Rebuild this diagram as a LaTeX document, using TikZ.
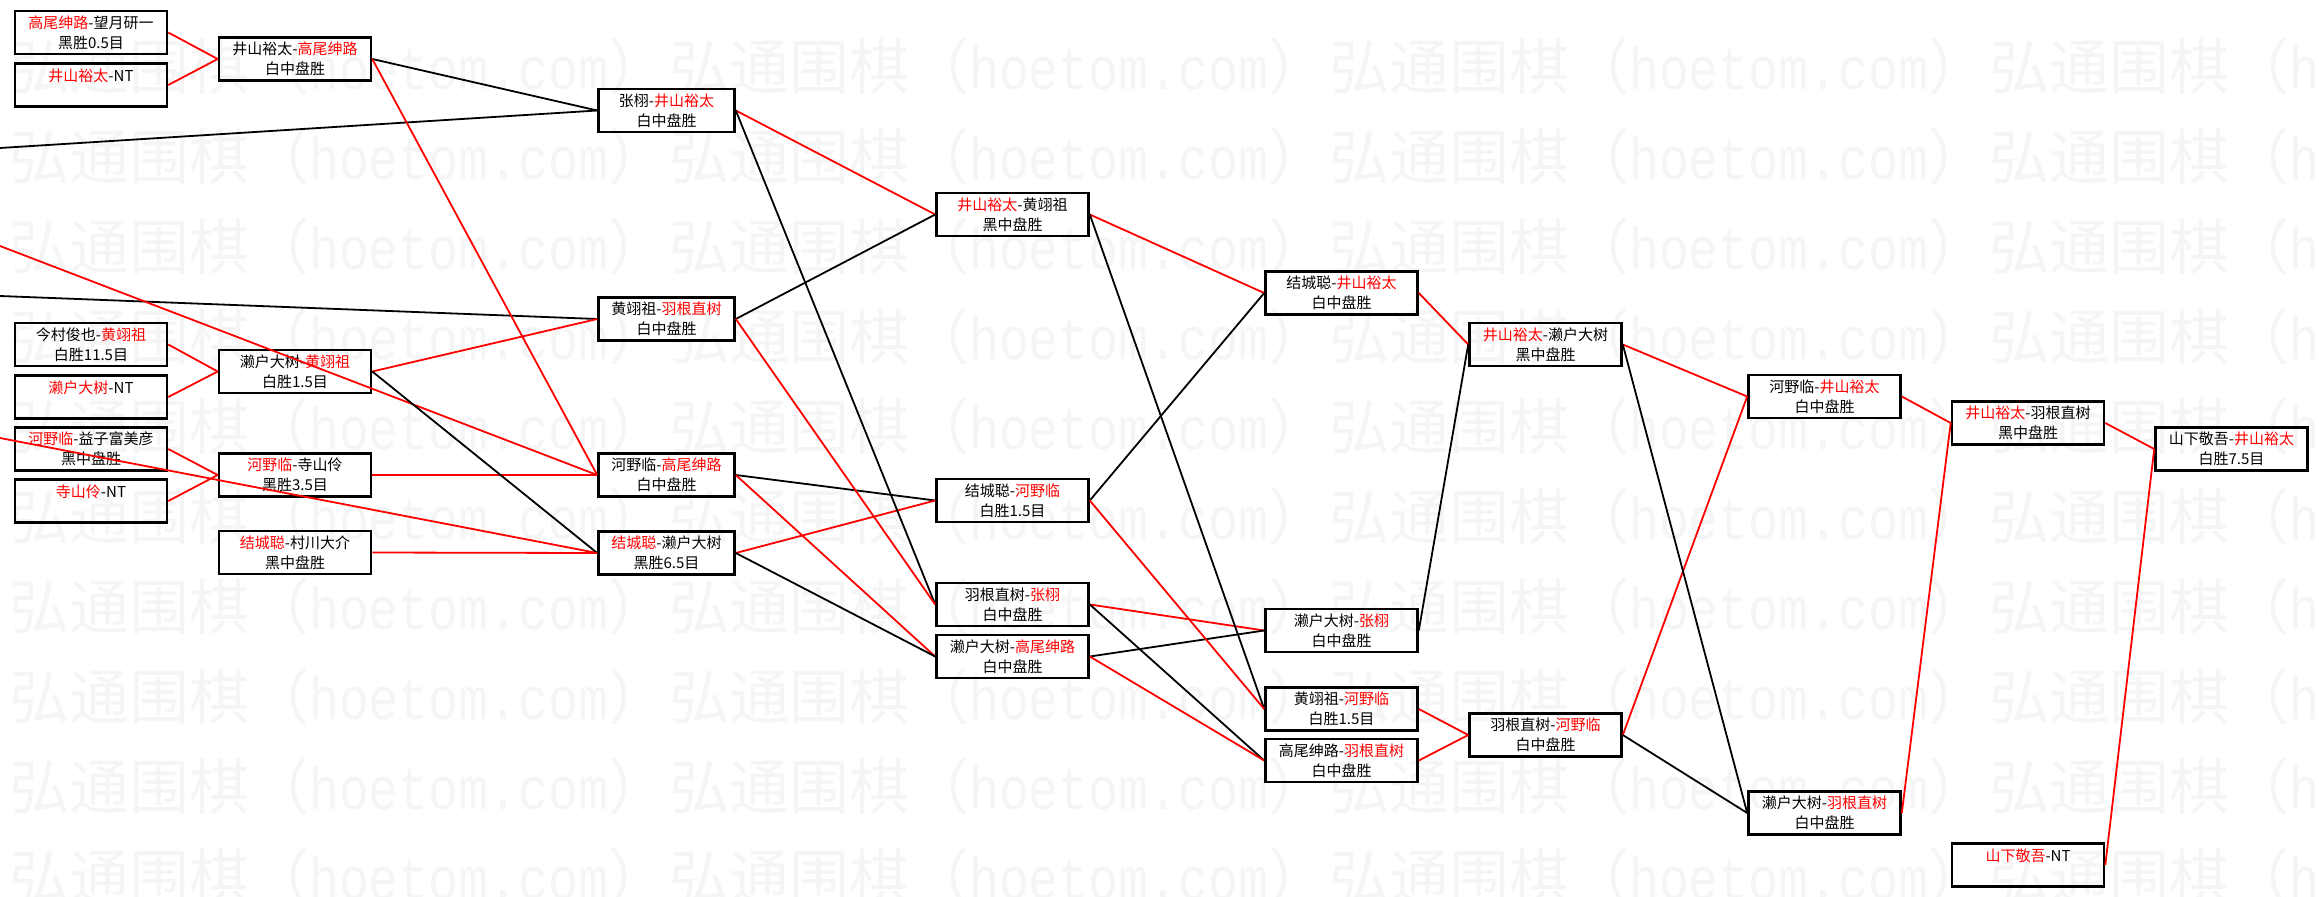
\documentclass[tikz,border=0pt]{standalone}
\usepackage{fontspec}
\setmainfont{Noto Sans CJK SC}
\newfontfamily\wmmono{Liberation Mono}[FakeStretch=0.83]
\newcommand{\winner}[1]{\textcolor{red}{#1}}

\begin{document}
\begin{tikzpicture}[x=1pt, y=-1pt,
  box/.style={draw, line width=2.6pt, minimum width=152, minimum height=43, inner sep=0pt, align=center, font=\fontsize{15}{20}\selectfont},
  narrow/.style={box, minimum width=136},
  win/.style={draw=red, line width=1.8pt},
  lose/.style={draw=black, line width=1.8pt},
  wm/.style={anchor=west, inner sep=0pt, text=black!4, font=\fontsize{60}{60}\selectfont}]
  % 0. 画布
  \useasboundingbox (0,0) rectangle (2319,897);

  % 1. 水印 (最底层)
  \foreach \j in {0,...,9}
    \foreach \k in {-1,...,3}
      \node[wm] (wm-\j-\k) at ({9+660*\k}, {67+90*\j}) {弘通围棋（{\wmmono hoetom.com}）};

  % 2. 对局框
  \node[box] (A1) at (91,32.5) {\winner{高尾绅路}-望月研一\\黑胜0.5目};
  \node[box] (A2) at (91,85) {\winner{井山裕太}-NT\\~};
  \node[box] (A3) at (91,344.5) {今村俊也-\winner{黄翊祖}\\白胜11.5目};
  \node[box] (A4) at (91,397) {\winner{濑户大树}-NT\\~};
  \node[box] (A5) at (91,449) {\winner{河野临}-益子富美彦\\黑中盘胜};
  \node[box] (A6) at (91,501) {\winner{寺山伶}-NT\\~};

  \node[box] (B1) at (295,59) {井山裕太-\winner{高尾绅路}\\白中盘胜};
  \node[box] (B2) at (295,371.5) {濑户大树-\winner{黄翊祖}\\白胜1.5目};
  \node[box] (B3) at (295,475) {\winner{河野临}-寺山伶\\黑胜3.5目};
  \node[box] (B4) at (295,552.5) {\winner{结城聪}-村川大介\\黑中盘胜};

  \node[narrow] (C1) at (666.5,110.5) {张栩-\winner{井山裕太}\\白中盘胜};
  \node[narrow] (C2) at (666.5,319) {黄翊祖-\winner{羽根直树}\\白中盘胜};
  \node[narrow] (C3) at (666.5,475) {河野临-\winner{高尾绅路}\\白中盘胜};
  \node[narrow] (C4) at (666.5,553) {\winner{结城聪}-濑户大树\\黑胜6.5目};

  \node[box] (D1) at (1012.5,214.5) {\winner{井山裕太}-黄翊祖\\黑中盘胜};
  \node[box] (D2) at (1012.5,500.5) {结城聪-\winner{河野临}\\白胜1.5目};
  \node[box] (D3) at (1012.5,604.5) {羽根直树-\winner{张栩}\\白中盘胜};
  \node[box] (D4) at (1012.5,656.5) {濑户大树-\winner{高尾绅路}\\白中盘胜};

  \node[box] (E1) at (1341.5,293) {结城聪-\winner{井山裕太}\\白中盘胜};
  \node[box] (E2) at (1341.5,630.5) {濑户大树-\winner{张栩}\\白中盘胜};
  \node[box] (E3) at (1341.5,709) {黄翊祖-\winner{河野临}\\白胜1.5目};
  \node[box] (E4) at (1341.5,760.5) {高尾绅路-\winner{羽根直树}\\白中盘胜};

  \node[box] (F1) at (1545.5,344.5) {\winner{井山裕太}-濑户大树\\黑中盘胜};
  \node[box] (F2) at (1545.5,735) {羽根直树-\winner{河野临}\\白中盘胜};

  \node[box] (G1) at (1824.5,396.5) {河野临-\winner{井山裕太}\\白中盘胜};
  \node[box] (G2) at (1824.5,813) {濑户大树-\winner{羽根直树}\\白中盘胜};

  \node[box] (H1) at (2028,423) {\winner{井山裕太}-羽根直树\\黑中盘胜};
  \node[box] (H2) at (2028,865) {\winner{山下敬吾}-NT\\~};

  \node[box] (I1) at (2231.5,449) {山下敬吾-\winner{井山裕太}\\白胜7.5目};

  % 3. 左侧截断的连线端点
  \coordinate (L1) at (0,148);
  \coordinate (L2) at (0,246);
  \coordinate (L3) at (0,296);
  \coordinate (L4) at (0,438);

  % 4. 连线 (红=胜者, 黑=负者)
  \draw[win] (A1.east) -- (B1.west);
  \draw[win] (A2.east) -- (B1.west);
  \draw[win] (A3.east) -- (B2.west);
  \draw[win] (A4.east) -- (B2.west);
  \draw[win] (A5.east) -- (B3.west);
  \draw[win] (A6.east) -- (B3.west);

  \draw[lose] (L1) -- (C1.west);
  \draw[lose] (B1.east) -- (C1.west);
  \draw[lose] (L3) -- (C2.west);
  \draw[win] (B2.east) -- (C2.west);
  \draw[win] (L2) -- (C3.west);
  \draw[win] (B1.east) -- (C3.west);
  \draw[win] (B3.east) -- (C3.west);
  \draw[win] (L4) -- (C4.west);
  \draw[lose] (B2.east) -- (C4.west);
  \draw[win] (B4.east) -- (C4.west);

  \draw[win] (C1.east) -- (D1.west);
  \draw[lose] (C2.east) -- (D1.west);
  \draw[lose] (C3.east) -- (D2.west);
  \draw[win] (C4.east) -- (D2.west);
  \draw[lose] (C1.east) -- (D3.west);
  \draw[win] (C2.east) -- (D3.west);
  \draw[win] (C3.east) -- (D4.west);
  \draw[lose] (C4.east) -- (D4.west);

  \draw[win] (D1.east) -- (E1.west);
  \draw[lose] (D2.east) -- (E1.west);
  \draw[win] (D3.east) -- (E2.west);
  \draw[lose] (D4.east) -- (E2.west);
  \draw[lose] (D1.east) -- (E3.west);
  \draw[win] (D2.east) -- (E3.west);
  \draw[lose] (D3.east) -- (E4.west);
  \draw[win] (D4.east) -- (E4.west);

  \draw[win] (E1.east) -- (F1.west);
  \draw[lose] (E2.east) -- (F1.west);
  \draw[win] (E3.east) -- (F2.west);
  \draw[win] (E4.east) -- (F2.west);

  \draw[win] (F1.east) -- (G1.west);
  \draw[win] (F2.east) -- (G1.west);
  \draw[lose] (F1.east) -- (G2.west);
  \draw[lose] (F2.east) -- (G2.west);

  \draw[win] (G1.east) -- (H1.west);
  \draw[win] (G2.east) -- (H1.west);

  \draw[win] (H1.east) -- (I1.west);
  \draw[win] (H2.east) -- (I1.west);
\end{tikzpicture}
\end{document}
